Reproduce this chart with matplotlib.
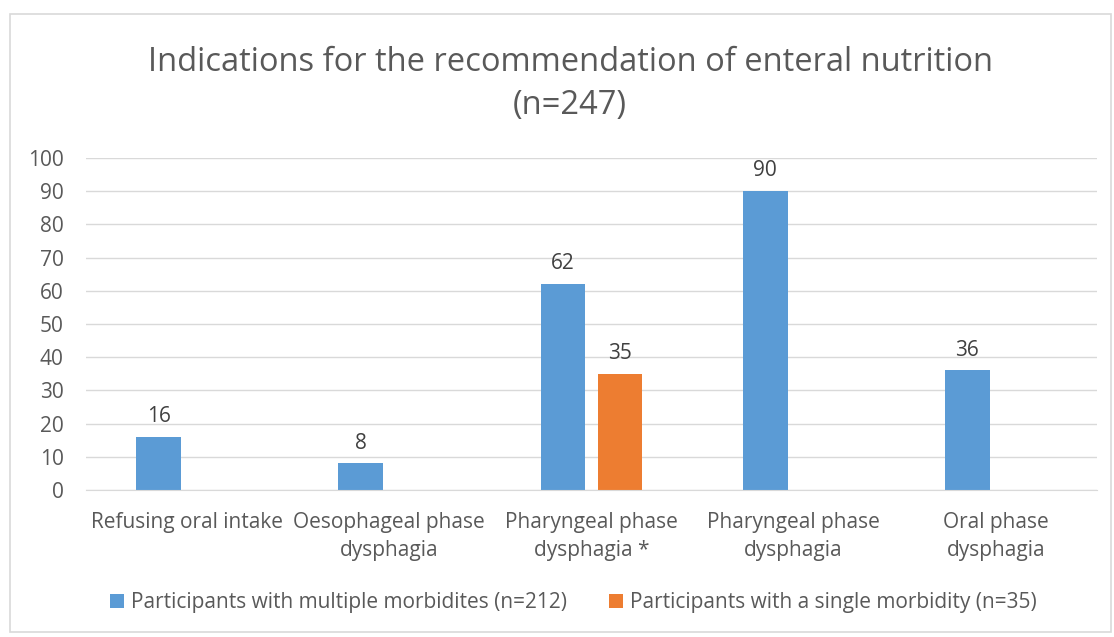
import matplotlib.pyplot as plt
import numpy as np
from matplotlib.patches import Rectangle

plt.rcParams['font.family'] = ['Open Sans', 'DejaVu Sans']

categories = ['Refusing oral intake', 'Oesophageal phase\ndysphagia',
              'Pharyngeal phase\ndysphagia *', 'Pharyngeal phase\ndysphagia',
              'Oral phase\ndysphagia']
multiple = [16, 8, 62, 90, 36]
single = [0, 0, 35, 0, 0]
series_names = ['Participants with multiple morbidites (n=212)',
                'Participants with a single morbidity (n=35)']
yticks = [0, 10, 20, 30, 40, 50, 60, 70, 80, 90, 100]

blue = '#5b9bd5'
orange = '#ed7d31'
txt = '#595959'
fs = 15

fig = plt.figure(figsize=(11.14, 6.37), dpi=100)
fig.patches.append(Rectangle((0.009, 0.008), 0.988, 0.97, transform=fig.transFigure,
                             fill=False, edgecolor='#d9d9d9', linewidth=1.2))
ax = fig.add_axes([0.0772, 0.2308, 0.9075, 0.5212])

x = np.arange(len(categories))
w = 0.222
off = 0.141
b1 = ax.bar(x - off, multiple, w, color=blue, label=series_names[0])
b2 = ax.bar(x + off, single, w, color=orange, label=series_names[1])
ax.bar_label(b1, labels=[str(v) if v else '' for v in multiple], padding=7,
             fontsize=fs, color='#404040')
ax.bar_label(b2, labels=[str(v) if v else '' for v in single], padding=7,
             fontsize=fs, color='#404040')

ax.set_xlim(-0.5, len(categories) - 0.5)
ax.set_ylim(0, 100)
ax.set_yticks(yticks)
ax.set_xticks(x)
ax.set_xticklabels(categories, fontsize=fs, color=txt, linespacing=1.4)
ax.tick_params(axis='y', labelsize=fs, labelcolor=txt, length=0, pad=16)
ax.tick_params(axis='x', length=0, pad=16)
ax.grid(axis='y', color='#d9d9d9', linewidth=1)
ax.set_axisbelow(True)
for s in ['top', 'right', 'left']:
    ax.spines[s].set_visible(False)
ax.spines['bottom'].set_color('#d9d9d9')

fig.suptitle('Indications for the recommendation of enteral nutrition\n(n=247)',
             fontsize=23.5, color=txt, x=0.5117, y=0.928, linespacing=1.4)

fig.legend(loc='center', bbox_to_anchor=(0.5148, 0.0534), ncol=2, frameon=False,
           fontsize=fs, labelcolor=txt, handlelength=0.67, handleheight=0.67,
           handletextpad=0.34, columnspacing=2.0)

fig.savefig('out.png', dpi=100)
